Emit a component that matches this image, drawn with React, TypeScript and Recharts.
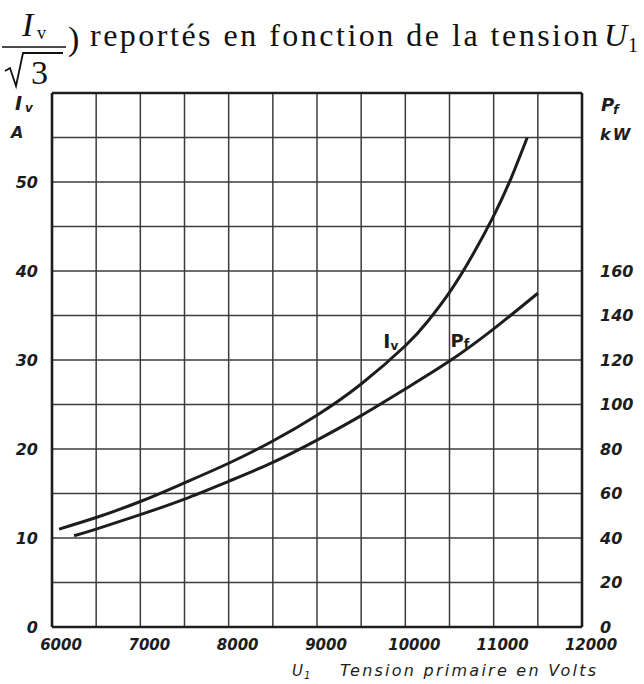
import React from "react";
import { LineChart, Line, XAxis, YAxis, ReferenceLine } from "recharts";

const ivVolts = [6080, 6500, 7000, 7500, 8000, 8500, 9000, 9500, 10000, 10250, 10500, 10750, 11000, 11200, 11380];
const ivAmps = [11.0, 12.3, 14.1, 16.2, 18.4, 20.9, 23.8, 27.3, 31.6, 34.3, 37.6, 41.6, 46.2, 50.5, 55.0];

const pfVolts = [6250, 6500, 7000, 7500, 8000, 8500, 9000, 9500, 10000, 10500, 11000, 11500];
const pfKw = [41, 44, 50.5, 57.5, 65.5, 74, 84, 95, 107, 119.5, 134, 150];

const voltTicks = [6000, 7000, 8000, 9000, 10000, 11000, 12000];
const ampTicks = [0, 10, 20, 30, 40, 50];
const kwTicks = [0, 20, 40, 60, 80, 100, 120, 140, 160];

// quadrillage : tous les 500 V et tous les 5 A
const gridVolts = [6500, 7000, 7500, 8000, 8500, 9000, 9500, 10000, 10500, 11000, 11500];
const gridAmps = [5, 10, 15, 20, 25, 30, 35, 40, 45, 50, 55];

const ivData = ivVolts.map((u, i) => ({ u, a: ivAmps[i] }));
const pfData = pfVolts.map((u, i) => ({ u, kw: pfKw[i] }));

const INK = "#1d1d1d";
const GRID = "#3c3c3c";
const HAND = "DejaVu Sans, sans-serif";
const SERIF = "Liberation Serif, Times New Roman, serif";

const yTick = {
  fill: INK,
  fontSize: 16,
  fontStyle: "italic",
  fontWeight: 700,
  fontFamily: HAND,
};

const XTick = (props: any) => {
  const { x, y, payload } = props;
  return (
    <text
      x={x + 9}
      y={y + 15}
      textAnchor="middle"
      fill={INK}
      fontSize={15}
      fontStyle="italic"
      fontWeight={600}
      fontFamily={HAND}
    >
      {payload.value}
    </text>
  );
};

const ivLabel = (props: any) => {
  if (props.index !== 8) return <g key={`iv-${props.index}`} />;
  return (
    <text
      key="iv-label"
      x={props.x - 22}
      y={props.y + 2}
      fill={INK}
      fontSize={19}
      fontWeight={700}
      fontFamily={HAND}
    >
      I
      <tspan fontSize={12} dy={2}>
        v
      </tspan>
    </text>
  );
};

const pfLabel = (props: any) => {
  if (props.index !== 9) return <g key={`pf-${props.index}`} />;
  return (
    <text
      key="pf-label"
      x={props.x + 1}
      y={props.y - 14}
      fill={INK}
      fontSize={18}
      fontWeight={700}
      fontFamily={HAND}
    >
      P
      <tspan fontSize={13} dy={1}>
        f
      </tspan>
    </text>
  );
};

const Overlay = () => (
  <svg
    width={644}
    height={684}
    style={{ position: "absolute", left: 0, top: 0, pointerEvents: "none" }}
  >
    {/* titre : (Iv / √3) reportés en fonction de la tension U1 */}
    <text x={22} y={36} fontFamily={SERIF} fontSize={34} fontStyle="italic" fill="#111">
      I
    </text>
    <text x={37} y={39} fontFamily={SERIF} fontSize={18} fill="#111">
      v
    </text>
    <line x1={2} y1={47} x2={66} y2={47} stroke="#111" strokeWidth={1.6} />
    <path d="M5 71 L10 68 L16 86 L23 53 L63 53" fill="none" stroke="#111" strokeWidth={1.8} />
    <text x={31} y={84} fontFamily={SERIF} fontSize={34} fill="#111">
      3
    </text>
    <text x={68} y={50} fontFamily={SERIF} fontSize={34} fill="#111">
      )
    </text>
    <text
      x={90}
      y={46}
      fontFamily={SERIF}
      fontSize={32}
      fill="#111"
      textLength={508}
      lengthAdjust="spacing"
    >
      reportés en fonction de la tension
    </text>
    <text x={604} y={46} fontFamily={SERIF} fontSize={32} fontStyle="italic" fill="#111">
      U
    </text>
    <text x={628} y={52} fontFamily={SERIF} fontSize={20} fill="#111">
      1
    </text>

    {/* unités des axes */}
    <text x={15} y={110} fontFamily={HAND} fontSize={19} fontStyle="italic" fontWeight={700} fill={INK}>
      I
    </text>
    <text x={25} y={112} fontFamily={HAND} fontSize={12} fontStyle="italic" fontWeight={700} fill={INK}>
      v
    </text>
    <text x={11} y={138} fontFamily={HAND} fontSize={16} fontStyle="italic" fontWeight={700} fill={INK}>
      A
    </text>
    <text x={601} y={111} fontFamily={HAND} fontSize={18} fontStyle="italic" fontWeight={700} fill={INK}>
      P
    </text>
    <text x={613} y={114} fontFamily={HAND} fontSize={13} fontStyle="italic" fontWeight={700} fill={INK}>
      f
    </text>
    <text
      x={600}
      y={140}
      fontFamily={HAND}
      fontSize={16}
      fontStyle="italic"
      fontWeight={700}
      letterSpacing={2}
      fill={INK}
    >
      kW
    </text>

    {/* titre de l'axe des abscisses */}
    <text x={292} y={676} fontFamily={HAND} fontSize={15} fontStyle="italic" fill={INK}>
      U
    </text>
    <text x={304} y={679} fontFamily={HAND} fontSize={10} fontStyle="italic" fill={INK}>
      1
    </text>
    <text
      x={340}
      y={676}
      fontFamily={HAND}
      fontSize={16}
      fontStyle="italic"
      fill={INK}
      textLength={256}
      lengthAdjust="spacing"
    >
      Tension primaire  en  Volts
    </text>
  </svg>
);

export default function App() {
  return (
    <div
      style={{
        position: "absolute",
        left: 0,
        top: 0,
        width: 644,
        height: 684,
        background: "#fff",
      }}
    >
      <LineChart
        width={644}
        height={684}
        margin={{ top: 93, right: 0, bottom: 0, left: 0 }}
      >
        <XAxis
          dataKey="u"
          type="number"
          domain={[6000, 12000]}
          ticks={voltTicks}
          allowDataOverflow
          height={57}
          axisLine={false}
          tickLine={false}
          tick={<XTick />}
        />
        <YAxis
          yAxisId="A"
          orientation="left"
          type="number"
          domain={[0, 60]}
          ticks={ampTicks}
          width={52}
          axisLine={false}
          tickLine={false}
          tickSize={0}
          tickMargin={14}
          tick={yTick}
        />
        <YAxis
          yAxisId="kW"
          orientation="right"
          type="number"
          domain={[0, 240]}
          ticks={kwTicks}
          width={62}
          axisLine={false}
          tickLine={false}
          tickSize={0}
          tickMargin={18}
          tick={{ ...yTick, textAnchor: "start" }}
        />

        {gridVolts.map((v) => (
          <ReferenceLine key={`gx-${v}`} x={v} yAxisId="A" stroke={GRID} strokeWidth={1.5} />
        ))}
        {gridAmps.map((v) => (
          <ReferenceLine key={`gy-${v}`} y={v} yAxisId="A" stroke={GRID} strokeWidth={1.5} />
        ))}
        <ReferenceLine x={6000} yAxisId="A" stroke={INK} strokeWidth={2.6} />
        <ReferenceLine x={12000} yAxisId="A" stroke={INK} strokeWidth={2.6} />
        <ReferenceLine y={0} yAxisId="A" stroke={INK} strokeWidth={2.6} />
        <ReferenceLine y={60} yAxisId="A" stroke={INK} strokeWidth={2.6} />

        <Line
          data={ivData}
          dataKey="a"
          yAxisId="A"
          type="natural"
          stroke={INK}
          strokeWidth={3}
          dot={false}
          label={ivLabel}
          isAnimationActive={false}
        />
        <Line
          data={pfData}
          dataKey="kw"
          yAxisId="kW"
          type="natural"
          stroke={INK}
          strokeWidth={3}
          dot={false}
          label={pfLabel}
          isAnimationActive={false}
        />
      </LineChart>
      <Overlay />
    </div>
  );
}
